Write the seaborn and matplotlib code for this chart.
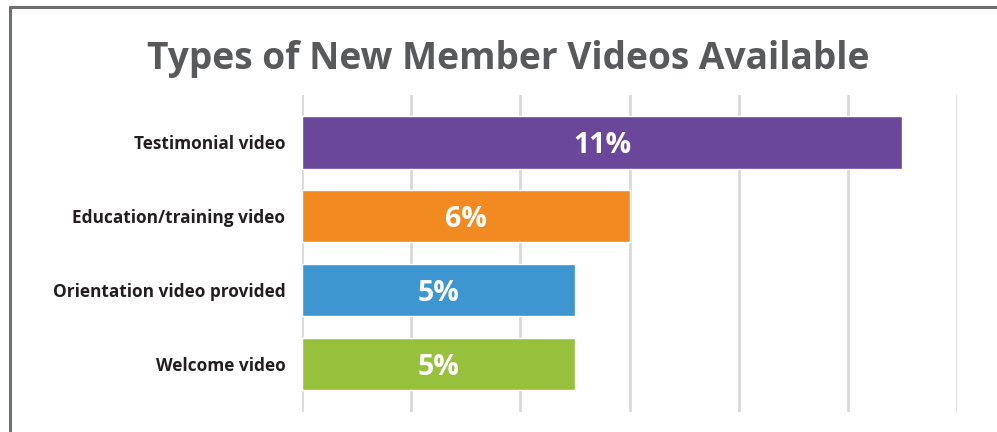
import matplotlib
matplotlib.use("Agg")
import matplotlib.pyplot as plt
import seaborn as sns
import pandas as pd
from matplotlib.lines import Line2D

categories = ["Testimonial video", "Education/training video", "Orientation video provided", "Welcome video"]
values = [11, 6, 5, 5]
value_labels = ["11%", "6%", "5%", "5%"]
colors = ["#6a479b", "#f28a22", "#3d96cf", "#97c13d"]

df = pd.DataFrame({"category": categories, "value": values})

sns.set_theme(style="white")
plt.rcParams['font.family'] = ['Open Sans', 'DejaVu Sans']

fig = plt.figure(figsize=(9.97, 4.32), dpi=100)
ax = fig.add_axes([302/997, 1-412/432, (957-302)/997, (412-95)/432])

sns.barplot(data=df, x="value", y="category", hue="category", palette=colors,
            width=0.71, legend=False, ax=ax, saturation=1, zorder=3)

ax.set_xlim(0, 12)
ax.set_ylim(3.65, -0.64)
ax.set_xticks(range(0, 13, 2))
ax.grid(axis="x", color="#d9d9d9", linewidth=2, zorder=0)
ax.grid(axis="y", visible=False)
for s in ax.spines.values():
    s.set_visible(False)
ax.tick_params(axis="x", length=0, labelbottom=False)
ax.tick_params(axis="y", length=0, pad=12)
ax.set_xlabel("")
ax.set_ylabel("")
for lab in ax.get_yticklabels():
    lab.set_fontsize(12.4)
    lab.set_fontweight("bold")
    lab.set_color("#231f20")

for i, (v, t) in enumerate(zip(values, value_labels)):
    ax.text(v / 2, i + 0.05, t, ha="center", va="center", color="white",
            fontsize=20.5, fontweight="bold", zorder=5)

fig.text(508/997, 1-59/432, "Types of New Member Videos Available", ha="center", va="center",
         fontsize=26.7, fontweight="bold", color="#58595b")

# frame lines (left and top)
fig.add_artist(Line2D([10/997, 10/997], [0, 1-7/432], transform=fig.transFigure, color="#6d6e70", linewidth=2.2))
fig.add_artist(Line2D([10/997, 1], [1-7/432, 1-7/432], transform=fig.transFigure, color="#6d6e70", linewidth=2.2))

fig.savefig("out.png", dpi=100)
